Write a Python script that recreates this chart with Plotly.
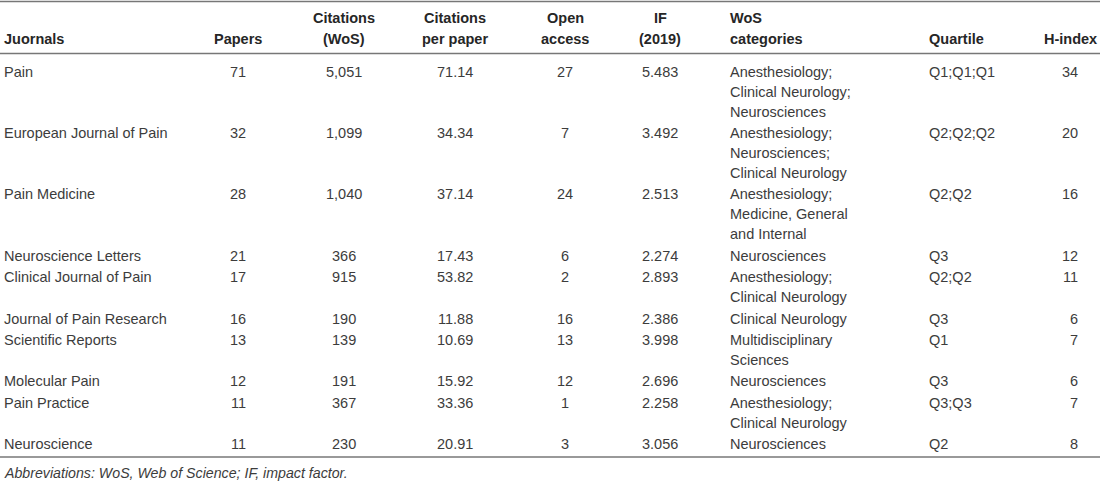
import plotly.graph_objects as go

# ---- data ----
headers = [["Juornals"], ["Papers"], ["Citations", "(WoS)"], ["Citations", "per paper"],
           ["Open", "access"], ["IF", "(2019)"], ["WoS", "categories"], ["Quartile"], ["H-index"]]
journals = ["Pain", "European Journal of Pain", "Pain Medicine", "Neuroscience Letters",
            "Clinical Journal of Pain", "Journal of Pain Research", "Scientific Reports",
            "Molecular Pain", "Pain Practice", "Neuroscience"]
papers = [71, 32, 28, 21, 17, 16, 13, 12, 11, 11]
citations = [5051, 1099, 1040, 366, 915, 190, 139, 191, 367, 230]
citations_per_paper = [71.14, 34.34, 37.14, 17.43, 53.82, 11.88, 10.69, 15.92, 33.36, 20.91]
open_access = [27, 7, 24, 6, 2, 16, 13, 12, 1, 3]
impact_factor = [5.483, 3.492, 2.513, 2.274, 2.893, 2.386, 3.998, 2.696, 2.258, 3.056]
wos_categories = [
    ["Anesthesiology;", "Clinical Neurology;", "Neurosciences"],
    ["Anesthesiology;", "Neurosciences;", "Clinical Neurology"],
    ["Anesthesiology;", "Medicine, General", "and Internal"],
    ["Neurosciences"],
    ["Anesthesiology;", "Clinical Neurology"],
    ["Clinical Neurology"],
    ["Multidisciplinary", "Sciences"],
    ["Neurosciences"],
    ["Anesthesiology;", "Clinical Neurology"],
    ["Neurosciences"],
]
quartile = ["Q1;Q1;Q1", "Q2;Q2;Q2", "Q2;Q2", "Q3", "Q2;Q2", "Q3", "Q1", "Q3", "Q3;Q3", "Q2"]
h_index = [34, 20, 16, 12, 11, 6, 7, 6, 7, 8]
footnote = "Abbreviations: WoS, Web of Science; IF, impact factor."

# ---- layout parameters ----
W, H = 1100, 483
FONT = "Liberation Sans, Arial, Helvetica, sans-serif"
FS = 14.5
TXT = "#3c3c3c"
HDR = "#262626"
LINE = "#777777"

col_x = [2, 238, 344, 455, 565, 660, 728, 927, 1070]
col_anchor = ["left", "center", "center", "center", "center", "center", "left", "left", "center"]
body_x = [2, 238, 344, 455, 565, 660, 728, 927, 1080]
body_anchor = ["left", "center", "center", "center", "center", "center", "left", "left", "right"]

hdr_y2 = 39
hdr_y1 = 18
first_y = 71.5
line_h = 20.0
row_gap = 1.4

fig = go.Figure()
fig.add_trace(go.Scatter(x=[0, W], y=[0, H], mode="markers", marker=dict(opacity=0),
                         hoverinfo="skip", showlegend=False))

ann = []

def add(x, y, text, anchor, color=TXT, bold=False, italic=False, size=FS):
    t = text
    if bold:
        t = "<b>" + t + "</b>"
    if italic:
        t = "<i>" + t + "</i>"
    ann.append(dict(x=x, y=y, xref="x", yref="y", text=t, showarrow=False,
                    xanchor=anchor, yanchor="middle",
                    font=dict(family=FONT, size=size, color=color)))

# headers
for ci, h in enumerate(headers):
    if len(h) == 1:
        add(col_x[ci], hdr_y2, h[0], col_anchor[ci], HDR, bold=True)
    else:
        add(col_x[ci], hdr_y1, h[0], col_anchor[ci], HDR, bold=True)
        add(col_x[ci], hdr_y2, h[1], col_anchor[ci], HDR, bold=True)

# body
lines_before = 0
for ri in range(len(journals)):
    y = first_y + line_h * lines_before + row_gap * ri
    cells = [journals[ri], str(papers[ri]), f"{citations[ri]:,}",
             f"{citations_per_paper[ri]:.2f}", str(open_access[ri]),
             f"{impact_factor[ri]:.3f}", None, quartile[ri], str(h_index[ri])]
    for ci, c in enumerate(cells):
        if ci == 6:
            for li, part in enumerate(wos_categories[ri]):
                add(body_x[ci], y + li * line_h, part, body_anchor[ci])
        else:
            add(body_x[ci], y, c, body_anchor[ci])
    lines_before += len(wos_categories[ri])

add(2, 473, footnote, "left", TXT, italic=True, size=14.2)

shapes = []
for yy in [1.5, 53.5, 457]:
    shapes.append(dict(type="line", xref="x", yref="y", x0=0, x1=W, y0=yy, y1=yy,
                       line=dict(color=LINE, width=1.3)))

fig.update_layout(
    width=W, height=H,
    margin=dict(l=0, r=0, t=0, b=0),
    paper_bgcolor="white", plot_bgcolor="white",
    xaxis=dict(range=[0, W], visible=False, fixedrange=True),
    yaxis=dict(range=[H, 0], visible=False, fixedrange=True),
    annotations=ann, shapes=shapes, showlegend=False,
)

fig.write_html("out.html", config={"displayModeBar": False},
               post_script="document.body.style.margin='0';document.body.style.overflow='hidden';")
